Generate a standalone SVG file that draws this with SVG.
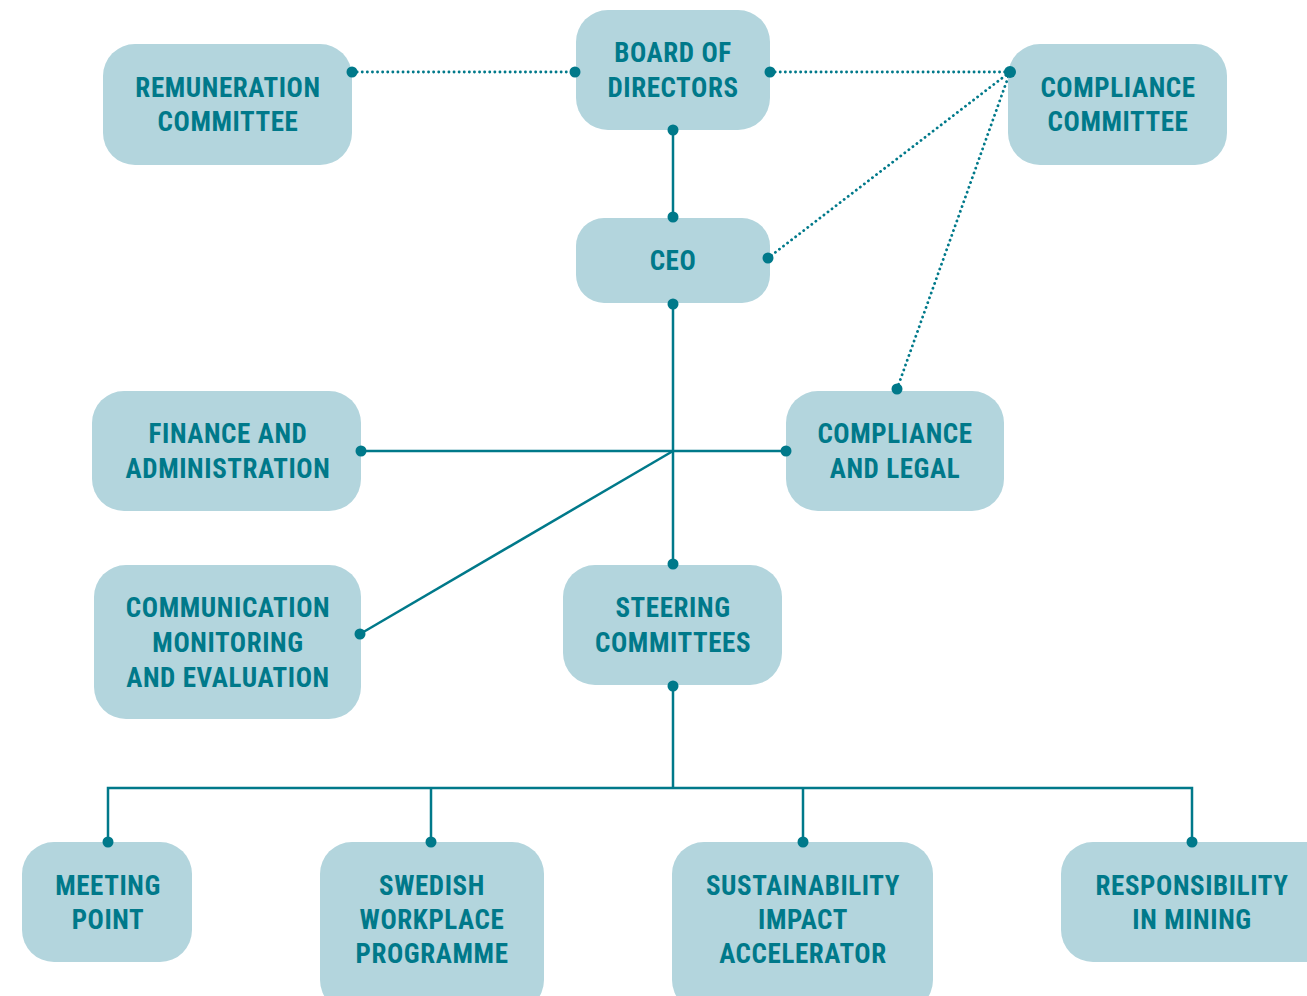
<svg xmlns="http://www.w3.org/2000/svg" width="1307" height="996" viewBox="0 0 1307 996">
<style>
.box{fill:#b3d5dd}
.t{font-family:Roboto,"Liberation Sans",sans-serif;font-weight:700;font-size:27px;fill:#00798a;text-anchor:middle;font-stretch:condensed;letter-spacing:0.6px}
.s{stroke:#00798a;stroke-width:2.5;fill:none}
.d{stroke:#00798a;stroke-width:2.8;fill:none;stroke-dasharray:0.1 5;stroke-linecap:round}
.dot{fill:#00798a}
</style>
<rect width="1307" height="996" fill="#ffffff"/>
<g id="connectors">
<line class="d" x1="352" y1="72" x2="575" y2="72"/>
<line class="d" x1="770" y1="72" x2="1010" y2="72"/>
<line class="d" x1="1010" y1="72" x2="768" y2="258"/>
<line class="d" x1="1010" y1="72" x2="897" y2="389"/>
<line class="s" x1="673" y1="130" x2="673" y2="217"/>
<line class="s" x1="673" y1="304" x2="673" y2="564"/>
<line class="s" x1="361" y1="451" x2="786" y2="451"/>
<line class="s" x1="673" y1="451" x2="360" y2="634"/>
<line class="s" x1="673" y1="686" x2="673" y2="788"/>
<polyline class="s" points="108,842 108,788 1192,788 1192,842"/>
<line class="s" x1="431" y1="788" x2="431" y2="842"/>
<line class="s" x1="803" y1="788" x2="803" y2="842"/>
</g>
<g id="remuneration"><rect class="box" x="103" y="44" width="249" height="121" rx="32"/><text class="t" x="228" y="97">REMUNERATION</text><text class="t" x="228" y="131">COMMITTEE</text></g>
<g id="board"><rect class="box" x="576" y="10" width="194" height="120" rx="32"/><text class="t" x="673" y="62">BOARD OF</text><text class="t" x="673" y="97">DIRECTORS</text></g>
<g id="compliance-committee"><rect class="box" x="1008" y="44" width="219" height="121" rx="32"/><text class="t" x="1118" y="97">COMPLIANCE</text><text class="t" x="1118" y="131">COMMITTEE</text></g>
<g id="ceo"><rect class="box" x="576" y="218" width="194" height="85" rx="28"/><text class="t" x="673" y="270">CEO</text></g>
<g id="finance"><rect class="box" x="92" y="391" width="269" height="120" rx="32"/><text class="t" x="228" y="443">FINANCE AND</text><text class="t" x="228" y="478">ADMINISTRATION</text></g>
<g id="compliance-legal"><rect class="box" x="786" y="391" width="218" height="120" rx="32"/><text class="t" x="895" y="443">COMPLIANCE</text><text class="t" x="895" y="478">AND LEGAL</text></g>
<g id="communication"><rect class="box" x="94" y="565" width="267" height="154" rx="32"/><text class="t" x="228" y="617">COMMUNICATION</text><text class="t" x="228" y="652">MONITORING</text><text class="t" x="228" y="687">AND EVALUATION</text></g>
<g id="steering"><rect class="box" x="563" y="565" width="219" height="120" rx="32"/><text class="t" x="673" y="617">STEERING</text><text class="t" x="673" y="652">COMMITTEES</text></g>
<g id="meeting-point"><rect class="box" x="22" y="842" width="170" height="120" rx="32"/><text class="t" x="108" y="895">MEETING</text><text class="t" x="108" y="929">POINT</text></g>
<g id="swedish"><rect class="box" x="320" y="842" width="224" height="170" rx="32"/><text class="t" x="432" y="895">SWEDISH</text><text class="t" x="432" y="929">WORKPLACE</text><text class="t" x="432" y="963">PROGRAMME</text></g>
<g id="sustainability"><rect class="box" x="672" y="842" width="261" height="170" rx="32"/><text class="t" x="803" y="895">SUSTAINABILITY</text><text class="t" x="803" y="929">IMPACT</text><text class="t" x="803" y="963">ACCELERATOR</text></g>
<g id="responsibility"><rect class="box" x="1061" y="842" width="280" height="120" rx="32"/><text class="t" x="1192" y="895">RESPONSIBILITY</text><text class="t" x="1192" y="929">IN MINING</text></g>
<g id="dots">
<circle class="dot" cx="352" cy="72" r="5.5"/><circle class="dot" cx="575" cy="72" r="5.5"/><circle class="dot" cx="770" cy="72" r="5.5"/><circle class="dot" cx="1010" cy="72" r="6"/><circle class="dot" cx="768" cy="258" r="5.5"/><circle class="dot" cx="897" cy="389" r="5.5"/>
<circle class="dot" cx="673" cy="130" r="5.5"/><circle class="dot" cx="673" cy="217" r="5.5"/><circle class="dot" cx="673" cy="304" r="5.5"/><circle class="dot" cx="361" cy="451" r="5.5"/><circle class="dot" cx="786" cy="451" r="5.5"/><circle class="dot" cx="360" cy="634" r="5.5"/><circle class="dot" cx="673" cy="564" r="5.5"/><circle class="dot" cx="673" cy="686" r="5.5"/>
<circle class="dot" cx="108" cy="842" r="5.5"/><circle class="dot" cx="431" cy="842" r="5.5"/><circle class="dot" cx="803" cy="842" r="5.5"/><circle class="dot" cx="1192" cy="842" r="5.5"/>
</g>
</svg>
